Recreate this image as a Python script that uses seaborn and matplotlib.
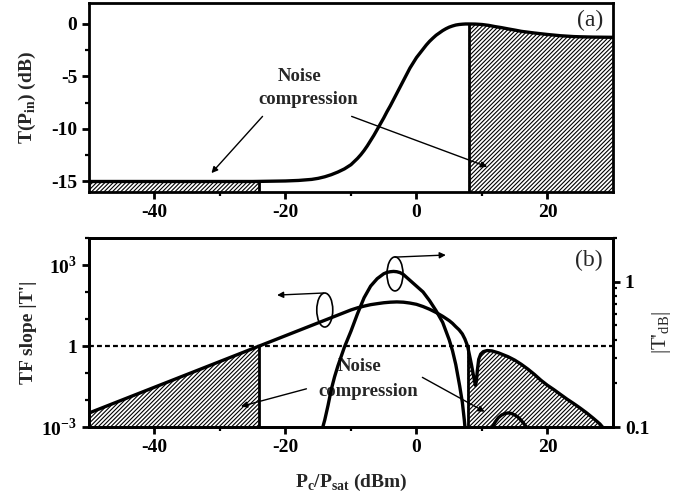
import numpy as np
import pandas as pd
import seaborn as sns
import matplotlib.pyplot as plt
from matplotlib.patches import Ellipse

# ---------------- data ----------------
# (a) transfer function T(P_in) in dB versus Pc/Psat (dBm)
p_in_a = [-50, -25, -20, -18, -16, -15, -14, -13, -12, -11, -10, -9.5, -9, -8.5,
          -8, -7.5, -7, -6.5, -6, -5.5, -5, -4.5, -4, -3.5, -3, -2.5, -2, -1.5,
          -1, -0.5, 0, 0.5, 1, 1.5, 2, 2.5, 3, 3.5, 4, 4.5, 5, 5.5, 6, 6.5, 7,
          7.5, 8, 9, 10, 11, 12, 13, 14, 15, 16, 17, 18, 19, 20, 21, 22, 23, 24,
          25, 27, 30]
t_db = [-15.0, -15.0, -14.95, -14.9, -14.8, -14.7, -14.55, -14.35, -14.1, -13.8,
        -13.4, -13.1, -12.8, -12.45, -12.05, -11.6, -11.1, -10.6, -10.05, -9.5,
        -8.95, -8.35, -7.8, -7.2, -6.6, -6.0, -5.4, -4.8, -4.2, -3.7, -3.2, -2.8,
        -2.4, -2.0, -1.65, -1.35, -1.07, -0.85, -0.63, -0.45, -0.3, -0.19, -0.1,
        -0.05, -0.02, 0.0, 0.0, -0.01, -0.05, -0.13, -0.25, -0.35, -0.47, -0.58,
        -0.7, -0.78, -0.86, -0.93, -1.0, -1.06, -1.12, -1.16, -1.2, -1.22,
        -1.25, -1.27]

# (b) slope of the transfer function |T'| (left, log axis)
p_in_b = [-50, -24, -10, -9, -8, -7, -6, -5, -4, -3, -2, -1, 0, 1, 2, 3, 4, 5,
          5.5, 6, 6.5, 7, 7.4, 7.8, 8.1, 8.4, 8.7, 9.0, 9.15, 9.3, 9.5, 9.8,
          10.2, 10.8, 11.5, 12.5, 14, 15, 16, 17, 18, 19, 20, 21, 22, 23, 24,
          25, 26, 27, 28, 28.4]
slope_lin = [0.0033, 1.0, 21.7, 26, 30, 34, 37, 40, 42, 43, 42, 39, 35, 29, 23,
             17.4, 12.6, 8.7, 6.9, 5.2, 4.0, 2.8, 1.8, 1.0, 0.45, 0.2, 0.08,
             0.035, 0.05, 0.13, 0.32, 0.5, 0.62, 0.68, 0.66, 0.56, 0.4, 0.3,
             0.21, 0.14, 0.089, 0.054, 0.035, 0.024, 0.016, 0.0107, 0.0074,
             0.005, 0.0033, 0.0021, 0.0013, 0.001]

# (b) slope in dB units |T'_dB| (right, log axis)
p_in_db = [-14.3, -14.0, -13.5, -13, -12.5, -12, -11, -10, -9, -8, -7, -6, -5,
           -4.5, -4, -3.5, -3, -2.5, -2, -1, 0, 1, 2, 3, 4, 5, 5.5, 6, 6.6,
           7.0, 7.3, 7.4]
slope_db = [0.10, 0.112, 0.141, 0.182, 0.222, 0.263, 0.355, 0.457, 0.603, 0.776,
            0.933, 1.05, 1.135, 1.16, 1.172, 1.178, 1.172, 1.155, 1.122, 1.023,
            0.933, 0.851, 0.741, 0.631, 0.525, 0.398, 0.335, 0.269, 0.191,
            0.148, 0.112, 0.10]
p_in_db2 = [11.6, 12.0, 12.5, 13.0, 13.5, 14.0, 14.5, 15.0, 15.5, 16.0, 16.5, 16.8]
slope_db2 = [0.10, 0.108, 0.116, 0.121, 0.124, 0.125, 0.124, 0.121, 0.117,
             0.111, 0.104, 0.10]

# shaded "noise compression" ranges
lin_edge = -24
sat_edge_a = 8
sat_edge_b = 7.8
threshold = 1.0

x_ticks = [-40, -20, 0, 20]
y_ticks_a = [0, -5, -10, -15]

# ---------------- style ----------------
sns.set_theme(style="ticks")
plt.rcParams.update({
    "font.family": ["Liberation Serif", "DejaVu Serif"],
    "font.weight": "bold",
    "axes.unicode_minus": False,
    "axes.linewidth": 2.0,
    "xtick.major.width": 2.0, "ytick.major.width": 2.0,
    "xtick.minor.width": 1.6, "ytick.minor.width": 1.6,
    "xtick.major.size": 5, "ytick.major.size": 5,
    "xtick.minor.size": 3, "ytick.minor.size": 3,
    "xtick.direction": "out", "ytick.direction": "out",
    "xtick.labelsize": 14, "ytick.labelsize": 14,
    "xtick.color": "black", "ytick.color": "black",
    "axes.edgecolor": "black",
    "hatch.linewidth": 0.8,
    "mathtext.fontset": "custom",
    "mathtext.rm": "Liberation Serif:bold",
    "mathtext.bf": "Liberation Serif:bold",
})

fig = plt.figure(figsize=(6.95, 4.97), dpi=100)
ax1 = fig.add_axes([0.128, 0.6137, 0.754, 0.3803])
ax2 = fig.add_axes([0.128, 0.1408, 0.754, 0.3803])

LW = 2.4
HATCH = "////////"

# ---------------- panel (a) ----------------
df_a = pd.DataFrame({"p": p_in_a, "t": t_db})
xa = np.asarray(p_in_a, float)
ta = np.asarray(t_db, float)

m_lo = xa <= lin_edge
ax1.fill_between(np.append(xa[m_lo], lin_edge), -16, np.append(ta[m_lo], -15.0),
                 facecolor="none", edgecolor="black", linewidth=0, hatch=HATCH, zorder=1)
m_hi = xa >= sat_edge_a
ax1.fill_between(xa[m_hi], -16, ta[m_hi], facecolor="none", edgecolor="black",
                 linewidth=0, hatch=HATCH, zorder=1)
ax1.vlines(lin_edge, -16, -15, color="black", lw=2.0, zorder=2)
ax1.vlines(sat_edge_a, -16, 0, color="black", lw=2.0, zorder=2)

sns.lineplot(data=df_a, x="p", y="t", ax=ax1, color="black", lw=LW, zorder=3)

ax1.set_xlim(-50, 30)
ax1.set_ylim(-16, 2)
ax1.set_xticks(x_ticks)
ax1.set_xticks([-30, -10, 10], minor=True)
ax1.set_yticks(y_ticks_a)
ax1.set_yticks([-2.5, -7.5, -12.5], minor=True)
ax1.set_xlabel("")
ax1.set_ylabel(r"T(P$_{\mathregular{in}}$) (dB)", fontsize=14, fontweight="bold")
ax1.yaxis.set_label_coords(-0.097, 0.5)

ax1.text(0.981, 0.965, "(a)", transform=ax1.transAxes, ha="right", va="top",
         fontsize=17, fontweight="normal")
ax1.text(-17.9, -4.97, "Noise", ha="center", va="center", fontsize=13.5)
ax1.text(-16.5, -7.2, "compression", ha="center", va="center", fontsize=13.5)
arrow_kw = dict(arrowstyle="-|>", color="black", lw=1.0, mutation_scale=9,
                shrinkA=0, shrinkB=0)
ax1.annotate("", xy=(-31.3, -14.2), xytext=(-23.5, -8.8), arrowprops=arrow_kw)
ax1.annotate("", xy=(10.8, -13.6), xytext=(-9.9, -8.8), arrowprops=arrow_kw)

# ---------------- panel (b) ----------------
df_b = pd.DataFrame({"p": p_in_b, "s": slope_lin})
xb = np.asarray(p_in_b, float)
sb = np.asarray(slope_lin, float)

m_lo = xb <= lin_edge
ax2.fill_between(xb[m_lo], 1e-3, sb[m_lo], facecolor="none", edgecolor="black",
                 linewidth=0, hatch=HATCH, zorder=1)
m_hi = xb >= sat_edge_b
ax2.fill_between(xb[m_hi], 1e-3, sb[m_hi], facecolor="none", edgecolor="black",
                 linewidth=0, hatch=HATCH, zorder=1)
ax2.vlines([lin_edge, sat_edge_b], 1e-3, threshold, color="black", lw=2.0, zorder=2)
ax2.axhline(threshold, color="black", lw=1.6, dashes=(2.2, 1.4), zorder=2)

sns.lineplot(data=df_b, x="p", y="s", ax=ax2, color="black", lw=LW, zorder=3)
ax2.set_yscale("log")
ax2.set_xlim(-50, 30)
ax2.set_ylim(1e-3, 1e4)
ax2.set_xticks(x_ticks)
ax2.set_xticks([-30, -10, 10], minor=True)
ax2.set_yticks([1e-3, 1, 1e3],
               labels=[r"10$^{\mathregular{-3}}$", "1", r"10$^{\mathregular{3}}$"])
ax2.set_yticks([1e-2, 1e-1, 1e1, 1e2, 1e4], minor=True, labels=[""] * 5)
ax2.set_xlabel(r"P$_{\mathregular{c}}$/P$_{\mathregular{sat}}$ (dBm)",
               fontsize=14, fontweight="bold")
ax2.xaxis.set_label_coords(0.5, -0.235)
ax2.set_ylabel("TF slope |T'|", fontsize=14, fontweight="bold")
ax2.yaxis.set_label_coords(-0.099, 0.5)

ax3 = ax2.twinx()
sns.lineplot(x=p_in_db, y=slope_db, ax=ax3, color="black", lw=LW, zorder=3)
sns.lineplot(x=p_in_db2, y=slope_db2, ax=ax3, color="black", lw=LW, zorder=3)
ax3.set_yscale("log")
ax3.set_ylim(0.1, 2.0)
ax3.set_yticks([0.1, 1], labels=["0.1", "1"])
ax3.set_yticks([0.2, 0.3, 0.4, 0.5, 0.6, 0.7, 0.8, 0.9, 2.0], minor=True,
               labels=[""] * 9)
ax3.set_ylabel(r"|T'$_{\mathregular{dB}}$|", fontsize=15, fontweight="normal")
ax3.yaxis.set_label_coords(1.071, 0.5)
ax3.set_xlim(-50, 30)

ax2.text(0.981, 0.937, "(b)", transform=ax2.transAxes, ha="right", va="top",
         fontsize=17, fontweight="normal")
ax2.text(-8.7, 0.18, "Noise", ha="center", va="center", fontsize=13.5)
ax2.text(-7.4, 0.021, "compression", ha="center", va="center", fontsize=13.5)
ax2.annotate("", xy=(-26.8, 0.0058), xytext=(-16.8, 0.026), arrowprops=arrow_kw)
ax2.annotate("", xy=(10.4, 0.0037), xytext=(0.9, 0.069), arrowprops=arrow_kw)

# axis-selector ellipses with arrows
for cx, cy in [(0.450, 0.619), (0.584, 0.810)]:
    ax2.add_patch(Ellipse((cx, cy), 0.0305, 0.180, transform=ax2.transAxes,
                          fill=False, edgecolor="black", lw=1.2, zorder=4))
ax2.annotate("", xy=(0.359, 0.698), xytext=(0.448, 0.709), xycoords="axes fraction",
             textcoords="axes fraction", arrowprops=arrow_kw)
ax2.annotate("", xy=(0.681, 0.910), xytext=(0.584, 0.899), xycoords="axes fraction",
             textcoords="axes fraction", arrowprops=arrow_kw)

for ax in (ax1, ax2, ax3):
    for sp in ax.spines.values():
        sp.set_visible(True)
        sp.set_linewidth(2.0)
    ax.grid(False)
ax1.tick_params(which="both", top=False, right=False)
ax2.tick_params(which="both", top=False, right=False)
ax3.tick_params(which="both", left=False, right=True)

fig.savefig("out.png", dpi=100)
